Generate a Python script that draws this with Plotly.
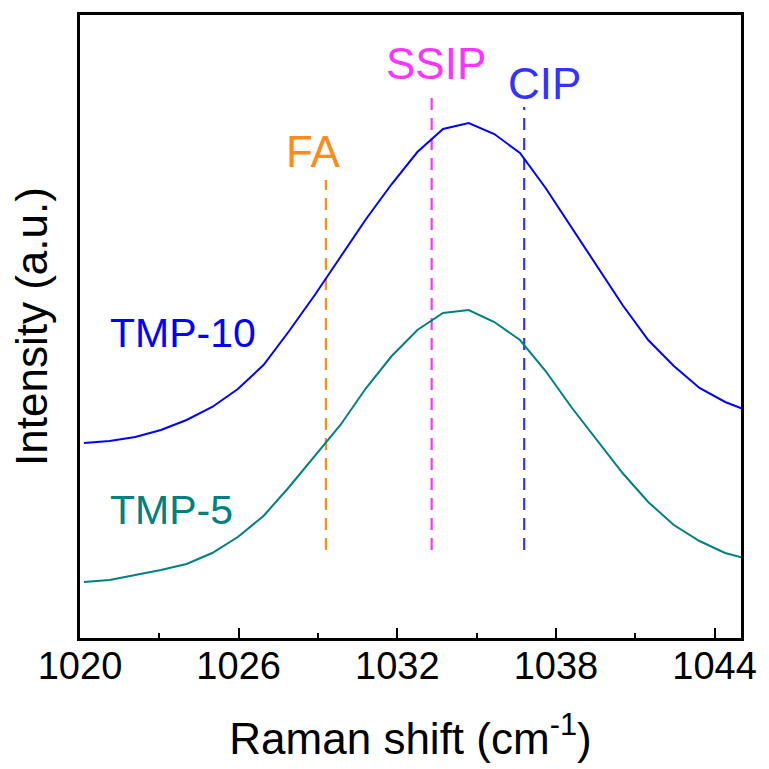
import plotly.graph_objects as go

# Raman shift grid (cm-1)
raman_shift = [1020.15, 1021.12, 1022.09, 1023.06, 1024.03, 1025.00, 1025.97, 1026.94,
               1027.91, 1028.88, 1029.85, 1030.82, 1031.79, 1032.76, 1033.73, 1034.70,
               1035.67, 1036.64, 1037.61, 1038.58, 1039.55, 1040.52, 1041.49, 1042.46,
               1043.43, 1044.40, 1045.37]

# Intensities (a.u., offset stacked)
tmp10 = [195, 197, 201, 208, 218, 231, 249, 273, 307, 343, 381, 419, 454, 486, 509, 515,
         504, 485, 450, 411, 372, 333, 298, 272, 250, 236, 226]
tmp5 = [56, 58, 63, 68, 74, 85, 101, 122, 151, 182, 213, 250, 282, 308, 325, 328,
        316, 298, 267, 231, 198, 165, 136, 113, 97, 85, 78]

# Reference peak positions (cm-1)
ref_names = ["FA", "SSIP", "CIP"]
ref_pos = [1029.3, 1033.3, 1036.8]
ref_top = [458, 545, 531]
ref_bottom = [88, 88, 88]
ref_colors = ["#FF8C1A", "#FF33FF", "#3333FF"]
ref_label_x = [1028.8, 1033.45, 1037.55]
ref_label_y = [487, 575, 555]

series_labels = ["TMP-10", "TMP-5"]
series_colors = ["#0000FF", "#008080"]
series_label_x = [1023.9, 1023.45]
series_label_y = [305, 128]

FONT = "Liberation Sans, Arial, sans-serif"

fig = go.Figure()

for name, x0, y0, y1, c in zip(ref_names, ref_pos, ref_bottom, ref_top, ref_colors):
    fig.add_trace(go.Scatter(x=[x0, x0], y=[y0, y1], mode="lines",
                             line=dict(color=c, width=2.2, dash="12px,8px"),
                             showlegend=False, hoverinfo="skip"))

for ys, c in zip([tmp10, tmp5], series_colors):
    fig.add_trace(go.Scatter(x=raman_shift, y=ys, mode="lines",
                             line=dict(color=c, width=2),
                             showlegend=False))

for name, x, y, c in zip(ref_names, ref_label_x, ref_label_y, ref_colors):
    fig.add_annotation(x=x, y=y, text=name, showarrow=False,
                       font=dict(family=FONT, size=44, color=c),
                       xanchor="center", yanchor="middle")

for name, x, y, c in zip(series_labels, series_label_x, series_label_y, series_colors):
    fig.add_annotation(x=x, y=y, text=name, showarrow=False,
                       font=dict(family=FONT, size=41, color=c),
                       xanchor="center", yanchor="middle")

fig.update_layout(
    width=769, height=769,
    margin=dict(l=80, r=24, t=15, b=131),
    paper_bgcolor="white", plot_bgcolor="white",
    font=dict(family=FONT, color="black"),
    showlegend=False,
)

fig.update_xaxes(
    range=[1020, 1045],
    tickvals=[1020, 1026, 1032, 1038, 1044],
    ticks="inside", ticklen=10, tickwidth=2, tickcolor="black",
    ticklabelstandoff=-8,
    minor=dict(tickvals=[1023, 1029, 1035, 1041], ticks="inside", ticklen=5,
               tickwidth=2, tickcolor="black"),
    showline=True, linewidth=3, linecolor="black", mirror=True,
    showgrid=False, zeroline=False,
    tickfont=dict(family=FONT, size=38, color="black"),
    title=dict(text="Raman shift (cm<sup>-1</sup>)",
               font=dict(family=FONT, size=44, color="black"), standoff=38),
)
fig.update_yaxes(
    range=[0, 623],
    showticklabels=False, ticks="",
    showline=True, linewidth=3, linecolor="black", mirror=True,
    showgrid=False, zeroline=False,
    title=dict(text="Intensity (a.u.)",
               font=dict(family=FONT, size=44, color="black"), standoff=16),
)

fig.write_html("out.html")
